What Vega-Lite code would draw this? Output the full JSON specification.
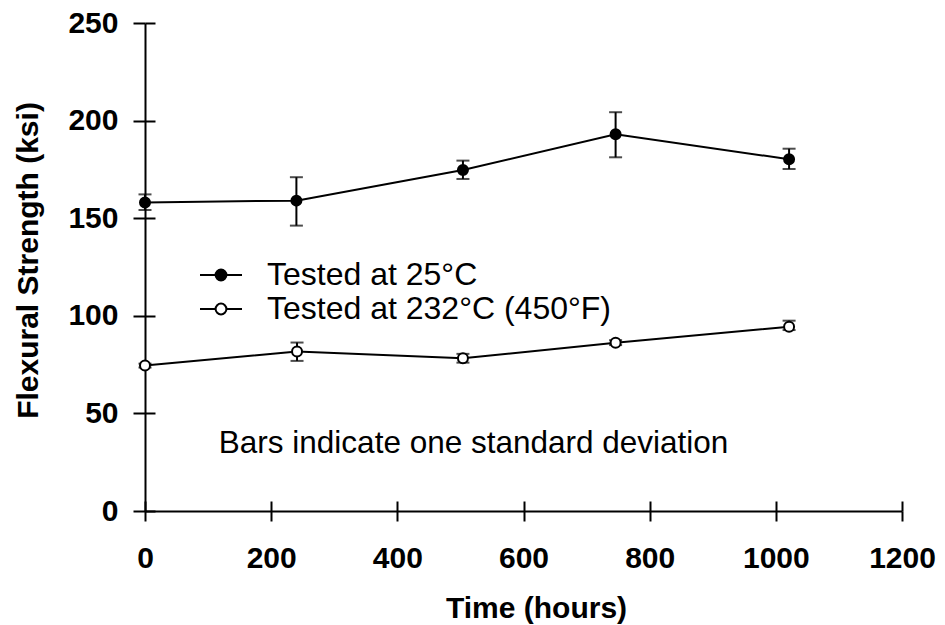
{
  "$schema": "https://vega.github.io/schema/vega-lite/v6.json",
  "autosize": "none",
  "width": 757,
  "height": 488,
  "padding": {"left": 145, "top": 23, "right": 43, "bottom": 114},
  "background": "white",
  "data": {
    "values": [
      {"series": "Tested at 25°C", "hours": 0, "mean": 158.1, "lo": 154.2, "hi": 162.2},
      {"series": "Tested at 25°C", "hours": 240, "mean": 159.0, "lo": 146.2, "hi": 171.0},
      {"series": "Tested at 25°C", "hours": 504, "mean": 174.7, "lo": 170.1, "hi": 179.5},
      {"series": "Tested at 25°C", "hours": 746, "mean": 193.0, "lo": 181.2, "hi": 204.3},
      {"series": "Tested at 25°C", "hours": 1021, "mean": 180.2, "lo": 175.2, "hi": 185.6},
      {"series": "Tested at 232°C (450°F)", "hours": 0, "mean": 74.5, "lo": 73.5, "hi": 75.5},
      {"series": "Tested at 232°C (450°F)", "hours": 241, "mean": 81.7, "lo": 76.9, "hi": 86.3},
      {"series": "Tested at 232°C (450°F)", "hours": 504, "mean": 78.2, "lo": 76.0, "hi": 80.5},
      {"series": "Tested at 232°C (450°F)", "hours": 746, "mean": 86.2, "lo": 85.0, "hi": 87.5},
      {"series": "Tested at 232°C (450°F)", "hours": 1021, "mean": 94.4, "lo": 92.7, "hi": 97.5}
    ]
  },
  "layer": [
    {
      "mark": {"type": "line", "color": "black", "strokeWidth": 2},
      "encoding": {
        "x": {
          "field": "hours", "type": "quantitative",
          "scale": {"domain": [0, 1200], "nice": false},
          "axis": {
            "values": [0, 200, 400, 600, 800, 1000, 1200],
            "format": "d",
            "labelFlush": false,
            "tickSize": 10, "labelPadding": 22,
            "title": "Time (hours)",
            "titleX": 391, "titleY": 106, "titleAlign": "center", "titleBaseline": "alphabetic"
          }
        },
        "y": {
          "field": "mean", "type": "quantitative",
          "scale": {"domain": [0, 250], "nice": false},
          "axis": {
            "values": [0, 50, 100, 150, 200, 250],
            "format": "d",
            "labelFlush": false,
            "tickSize": 12, "labelPadding": 15,
            "title": "Flexural Strength (ksi)",
            "titleX": -108, "titleY": 237, "titleAngle": -90, "titleAlign": "center", "titleBaseline": "alphabetic"
          }
        },
        "detail": {"field": "series"}
      }
    },
    {
      "mark": {
        "type": "errorbar",
        "color": "black",
        "thickness": 2,
        "ticks": {"size": 13, "thickness": 2, "color": "black"},
        "rule": {"strokeWidth": 2, "color": "black"}
      },
      "encoding": {
        "x": {"field": "hours", "type": "quantitative", "axis": null},
        "y": {"field": "lo", "type": "quantitative", "axis": null},
        "y2": {"field": "hi"}
      }
    },
    {
      "mark": {"type": "point", "shape": "circle", "filled": false, "stroke": "black", "strokeWidth": 2, "size": 100, "opacity": 1, "fillOpacity": 1},
      "encoding": {
        "x": {
          "field": "hours", "type": "quantitative",
          "axis": {
            "orient": "top", "offset": -488,
            "values": [0, 200, 400, 600, 800, 1000, 1200],
            "labels": false, "domain": false, "ticks": true, "tickSize": 10, "title": null
          }
        },
        "y": {
          "field": "mean", "type": "quantitative",
          "axis": {
            "orient": "right", "offset": -757,
            "values": [0, 50, 100, 150, 200, 250],
            "labels": false, "domain": false, "ticks": true, "tickSize": 10, "title": null
          }
        },
        "fill": {
          "field": "series", "type": "nominal",
          "scale": {"domain": ["Tested at 25°C", "Tested at 232°C (450°F)"], "range": ["black", "white"]},
          "legend": {
            "title": null,
            "orient": "none",
            "legendX": 60,
            "legendY": 236,
            "padding": 0,
            "symbolType": "M-3.5,0L-0.9,0M0.9,0L3.5,0M-0.9,0A0.9,0.9 0 1,1 0.9,0A0.9,0.9 0 1,1 -0.9,0",
            "symbolSize": 144,
            "symbolStrokeColor": "black",
            "symbolStrokeWidth": 2,
            "symbolOpacity": 1,
            "labelFont": "Liberation Sans",
            "labelFontSize": 32,
            "labelColor": "black",
            "labelOffset": 30,
            "labelLimit": 600,
            "rowPadding": 2
          }
        }
      }
    },
    {
      "data": {"values": [{"note": "Bars indicate one standard deviation"}]},
      "mark": {"type": "text", "align": "left", "baseline": "alphabetic", "font": "Liberation Sans", "fontSize": 31.5, "color": "black"},
      "encoding": {
        "x": {"datum": 117, "type": "quantitative", "axis": null},
        "y": {"datum": 29.7, "type": "quantitative", "axis": null},
        "text": {"field": "note"}
      }
    }
  ],
  "resolve": {"axis": {"x": "independent", "y": "independent"}},
  "config": {
    "view": {"stroke": null},
    "axis": {
      "grid": false,
      "domainColor": "black",
      "domainWidth": 2,
      "tickColor": "black",
      "tickWidth": 2,
      "labelColor": "black",
      "titleColor": "black",
      "labelFont": "Liberation Sans",
      "labelFontWeight": "bold",
      "labelFontSize": 30,
      "titleFont": "Liberation Sans",
      "titleFontWeight": "bold",
      "titleFontSize": 30
    }
  }
}
